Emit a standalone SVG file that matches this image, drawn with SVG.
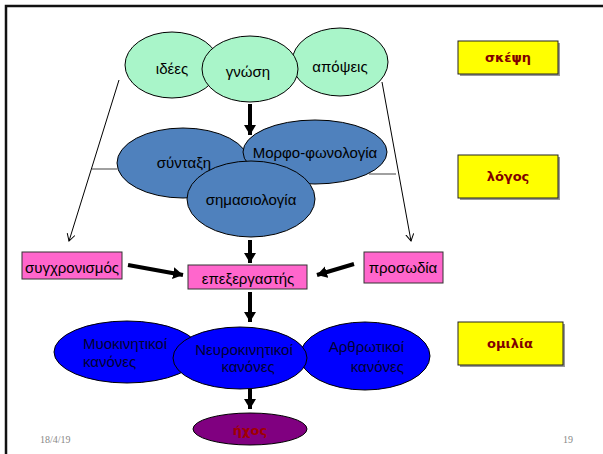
<svg xmlns="http://www.w3.org/2000/svg" width="603" height="454" viewBox="0 0 603 454">
<style>
.t{font-family:"Liberation Sans",Arial,sans-serif;font-size:15px;fill:#000;text-anchor:middle}
.tb{font-family:"Liberation Sans",Arial,sans-serif;font-size:15px;fill:#000033}
.y{font-family:"DejaVu Sans",sans-serif;font-weight:bold;font-size:13px;fill:#800000;text-anchor:middle}
.mint{fill:#A9F5C9;stroke:#000;stroke-width:1}
.steel{fill:#4F81BD;stroke:#000;stroke-width:1}
.blue{fill:#0000FF;stroke:#000;stroke-width:1}
.pink{fill:#FF66CC;stroke:#333;stroke-width:1}
.yel{fill:#FFFF00;stroke:#222;stroke-width:1}
.shadow{fill:#999}
.thick{stroke:#000;stroke-width:4;fill:none;marker-end:url(#big)}
.thin{stroke:#000;stroke-width:1;fill:none;marker-end:url(#small)}
.gray{stroke:#808080;stroke-width:1.5}
.date{font-family:"Liberation Serif",serif;font-size:10px;fill:#888}
</style>
<defs>
<marker id="big" markerUnits="userSpaceOnUse" markerWidth="14" markerHeight="14" refX="10" refY="6" orient="auto">
<path d="M0,0 L10,6 L0,12 Z" fill="#000"/>
</marker>
<marker id="small" markerUnits="userSpaceOnUse" markerWidth="10" markerHeight="10" refX="7" refY="4" orient="auto">
<path d="M0,0 L7,4 L0,8" fill="none" stroke="#000" stroke-width="1"/>
</marker>
</defs>
<rect x="0" y="0" width="603" height="454" fill="#fff"/>
<path d="M6,454 V6 H603" fill="none" stroke="#111" stroke-width="2.5"/>

<g id="connectors">
<line class="thin" x1="119" y1="80" x2="69" y2="241"/>
<line class="thin" x1="382" y1="82" x2="411" y2="241"/>
<line class="gray" x1="92" y1="169" x2="117" y2="169"/>
<line class="gray" x1="369" y1="174" x2="396" y2="174"/>
<line class="thick" x1="250" y1="104" x2="250" y2="135"/>
<line class="thick" x1="250" y1="240" x2="250" y2="263"/>
<line class="thick" x1="128" y1="265" x2="183" y2="275"/>
<line class="thick" x1="354" y1="264" x2="317" y2="275"/>
<line class="thick" x1="250" y1="292" x2="250" y2="322"/>
<line class="thick" x1="250" y1="389" x2="250" y2="409"/>
</g>

<g id="idees"><ellipse class="mint" cx="172" cy="65" rx="47" ry="33"/><text class="t" x="172" y="74">ιδέες</text></g>
<g id="apopseis"><ellipse class="mint" cx="340" cy="62" rx="48" ry="34"/><text class="t" x="340" y="72">απόψεις</text></g>
<g id="gnosi"><ellipse class="mint" cx="250" cy="69" rx="48" ry="33"/><text class="t" x="248" y="77">γνώση</text></g>

<g id="syntaxi"><ellipse class="steel" cx="183" cy="163" rx="66" ry="35"/><text class="t" x="184" y="168">σύνταξη</text></g>
<g id="morfo"><ellipse class="steel" cx="315" cy="152" rx="72" ry="32"/><text class="t" x="315" y="158">Μορφο-φωνολογία</text></g>
<g id="simasiologia"><ellipse class="steel" cx="251" cy="199" rx="64" ry="38"/><text class="t" x="251" y="205">σημασιολογία</text></g>

<g id="sygxronismos"><rect class="pink" x="22" y="252" width="100" height="27"/><text class="t" x="72" y="273">συγχρονισμός</text></g>
<g id="epeksergastis"><rect class="pink" x="188" y="265" width="119" height="24"/><text class="t" x="248" y="284">επεξεργαστής</text></g>
<g id="prosodia"><rect class="pink" x="364" y="252" width="79" height="31"/><text class="t" x="403" y="273">προσωδία</text></g>

<g id="myokinitikoi"><ellipse class="blue" cx="127" cy="352" rx="73" ry="31"/><text class="tb" x="83" y="349">Μυοκινητικοί</text><text class="tb" x="83" y="367">κανόνες</text></g>
<g id="arthrotikoi"><ellipse class="blue" cx="365" cy="356" rx="65" ry="34"/><text class="tb" x="404" y="352" text-anchor="end">Αρθρωτικοί</text><text class="tb" x="404" y="372" text-anchor="end">κανόνες</text></g>
<g id="neurokinitikoi"><ellipse class="blue" cx="240" cy="358" rx="67" ry="31"/><text class="tb" x="244" y="355" text-anchor="middle">Νευροκινητικοί</text><text class="tb" x="248" y="372" text-anchor="middle">κανόνες</text></g>

<g id="ixos"><ellipse cx="250" cy="429" rx="57" ry="16" fill="#800080" stroke="#000" stroke-width="1"/><text class="y" x="250" y="435" style="fill:#A00000">ήχος</text></g>

<g id="skepsi"><rect class="shadow" x="460" y="43" width="100" height="33"/><rect class="yel" x="458" y="41" width="100" height="33"/><text class="y" x="508" y="62">σκέψη</text></g>
<g id="logos"><rect class="shadow" x="460" y="157" width="100" height="43"/><rect class="yel" x="458" y="155" width="100" height="43"/><text class="y" x="508" y="181">λόγος</text></g>
<g id="omilia"><rect class="shadow" x="460" y="324" width="105" height="43"/><rect class="yel" x="458" y="322" width="105" height="43"/><text class="y" x="510" y="348">ομιλία</text></g>

<text class="date" x="40" y="443">18/4/19</text>
<text class="date" x="563" y="443">19</text>
</svg>
